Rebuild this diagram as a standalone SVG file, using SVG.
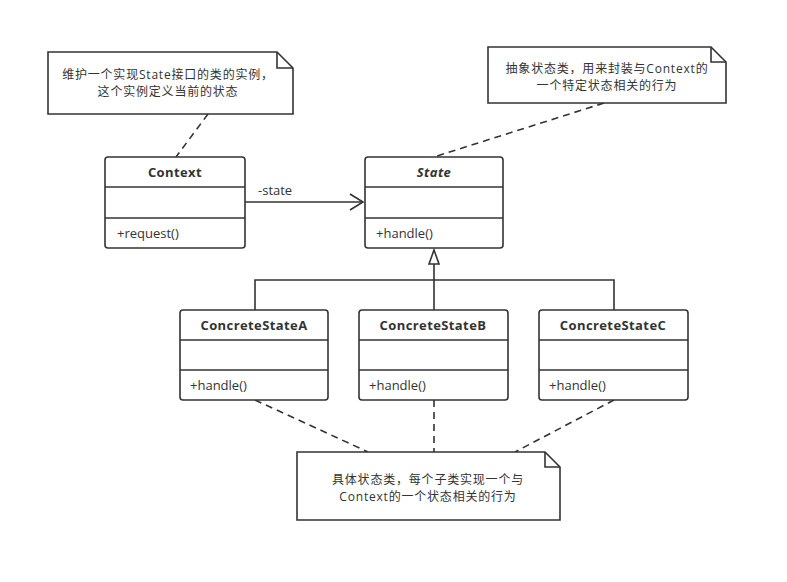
<svg xmlns="http://www.w3.org/2000/svg" width="787" height="582" viewBox="0 0 787 582">
<defs>
<style>
.box{fill:#fff;stroke:#333;stroke-width:1.6}
.ln{stroke:#333;stroke-width:1.6;fill:none}
.dash{stroke:#333;stroke-width:1.6;fill:none;stroke-dasharray:7,5}
.t{font-family:"Open Sans","Noto Sans CJK SC",sans-serif;font-size:13px;fill:#333}
.n{font-family:"Open Sans","Noto Sans CJK SC",sans-serif;font-size:12px;letter-spacing:0.8px;fill:#333;text-anchor:middle}
.b{font-weight:bold;text-anchor:middle;letter-spacing:0.4px}
</style>
<marker id="open" markerWidth="16" markerHeight="18" refX="14" refY="9" orient="auto" markerUnits="userSpaceOnUse">
<path d="M1,1 L14,9 L1,17" fill="none" stroke="#333" stroke-width="1.6"/>
</marker>
</defs>
<rect width="787" height="582" fill="#fff"/>
<g id="connectors">
<line class="dash" x1="208" y1="114" x2="176" y2="157"/>
<line class="dash" x1="604" y1="103" x2="434" y2="157"/>
<line class="ln" x1="245" y1="202" x2="363" y2="202" marker-end="url(#open)"/>
<text class="t" x="258" y="195">-state</text>
<path class="ln" d="M255,310 V280 H614 V310"/>
<line class="ln" x1="434" y1="310" x2="434" y2="250"/>
<path d="M434,250 L439,264 L429,264 Z" fill="#fff" stroke="#333" stroke-width="1.6"/>
<line class="dash" x1="255" y1="400" x2="368" y2="452"/>
<line class="dash" x1="434" y1="400" x2="434" y2="452"/>
<line class="dash" x1="614" y1="400" x2="515" y2="452"/>
</g>
<g id="note1">
<path class="box" d="M48,52 H277 L293,68 V114 H48 Z"/>
<path class="ln" d="M277,52 V68 H293"/>
<text class="n" x="168" y="79">维护一个实现State接口的类的实例，</text>
<text class="n" x="168" y="96">这个实例定义当前的状态</text>
</g>
<g id="note2">
<path class="box" d="M488,47 H711 L726,62 V103 H488 Z"/>
<path class="ln" d="M711,47 V62 H726"/>
<text class="n" x="607" y="73">抽象状态类，用来封装与Context的</text>
<text class="n" x="607" y="90">一个特定状态相关的行为</text>
</g>
<g id="context">
<rect class="box" x="105" y="157" width="140" height="91" rx="3"/>
<line class="ln" x1="105" y1="187" x2="245" y2="187"/>
<line class="ln" x1="105" y1="218" x2="245" y2="218"/>
<text class="t b" x="175" y="177">Context</text>
<text class="t" x="117" y="238">+request()</text>
</g>
<g id="state">
<rect class="box" x="365" y="157" width="138" height="91" rx="3"/>
<line class="ln" x1="365" y1="187" x2="503" y2="187"/>
<line class="ln" x1="365" y1="218" x2="503" y2="218"/>
<text class="t b" x="434" y="177" font-style="italic">State</text>
<text class="t" x="376" y="238">+handle()</text>
</g>
<g id="concreteA">
<rect class="box" x="180" y="310" width="148" height="90" rx="3"/>
<line class="ln" x1="180" y1="340" x2="328" y2="340"/>
<line class="ln" x1="180" y1="370" x2="328" y2="370"/>
<text class="t b" x="254" y="330">ConcreteStateA</text>
<text class="t" x="190" y="390">+handle()</text>
</g>
<g id="concreteB">
<rect class="box" x="359" y="310" width="149" height="90" rx="3"/>
<line class="ln" x1="359" y1="340" x2="508" y2="340"/>
<line class="ln" x1="359" y1="370" x2="508" y2="370"/>
<text class="t b" x="433" y="330">ConcreteStateB</text>
<text class="t" x="369" y="390">+handle()</text>
</g>
<g id="concreteC">
<rect class="box" x="539" y="310" width="149" height="90" rx="3"/>
<line class="ln" x1="539" y1="340" x2="688" y2="340"/>
<line class="ln" x1="539" y1="370" x2="688" y2="370"/>
<text class="t b" x="613" y="330">ConcreteStateC</text>
<text class="t" x="549" y="390">+handle()</text>
</g>
<g id="note3">
<path class="box" d="M297,452 H545 L560,467 V520 H297 Z"/>
<path class="ln" d="M545,452 V467 H560"/>
<text class="n" x="428" y="484">具体状态类，每个子类实现一个与</text>
<text class="n" x="428" y="501">Context的一个状态相关的行为</text>
</g>
</svg>
